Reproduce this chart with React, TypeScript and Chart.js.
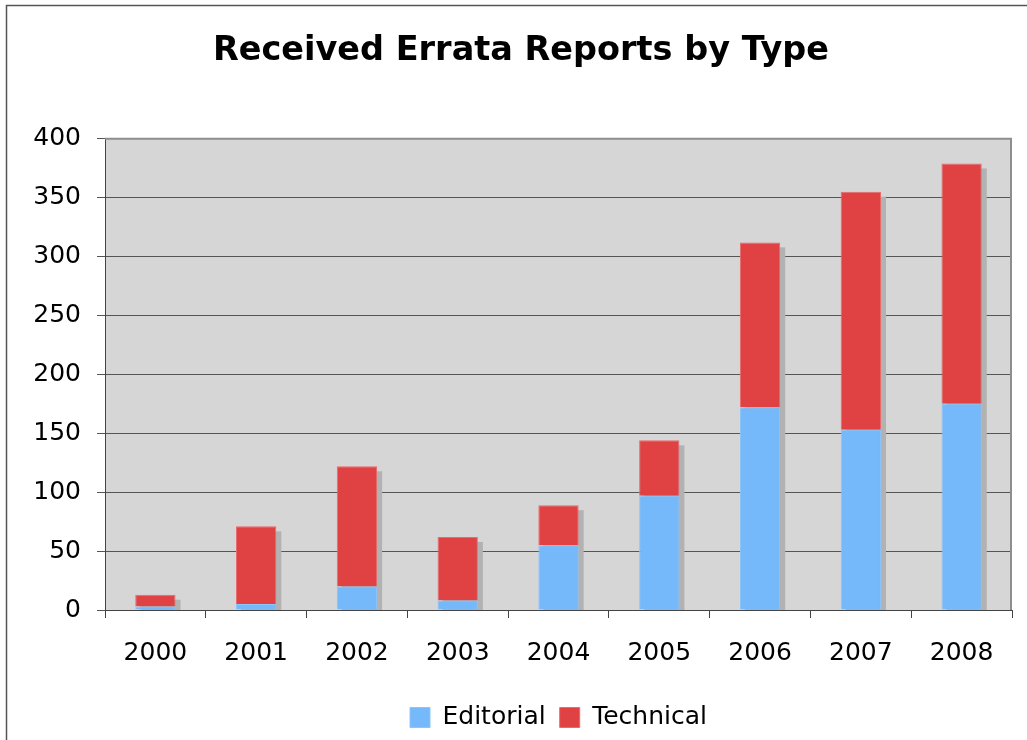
import React, { useEffect, useRef } from "react";
import { Chart, registerables } from "chart.js";

Chart.register(...registerables);

const years = ["2000", "2001", "2002", "2003", "2004", "2005", "2006", "2007", "2008"];
const editorial = [3, 5, 20, 8, 55, 97, 172, 153, 175];
const technical = [10, 66, 102, 54, 34, 47, 140, 202, 204];
const yMin = 0;
const yMax = 400;
const yStep = 50;

const FONT = "'DejaVu Sans', Verdana, sans-serif";

const decorPlugin = {
  id: "decor",
  beforeDraw(chart: any) {
    const { ctx, chartArea: a } = chart;
    ctx.save();
    ctx.fillStyle = "#ffffff";
    ctx.fillRect(0, 0, chart.width, chart.height);
    // outer frame
    ctx.strokeStyle = "#555555";
    ctx.lineWidth = 1.5;
    ctx.beginPath();
    ctx.moveTo(6.5, chart.height);
    ctx.lineTo(6.5, 5.5);
    ctx.lineTo(chart.width, 5.5);
    ctx.stroke();
    // plot background
    ctx.fillStyle = "#d6d6d6";
    ctx.fillRect(a.left, a.top, a.right - a.left, a.bottom - a.top);
    ctx.restore();
  },
  beforeDatasetsDraw(chart: any) {
    const { ctx } = chart;
    const top = chart.getDatasetMeta(1);
    const base = chart.scales.y.getPixelForValue(0);
    ctx.save();
    ctx.fillStyle = "#b2b2b2";
    top.data.forEach((el: any) => {
      const p = el.getProps(["x", "y", "width"], true);
      const left = p.x - p.width / 2 + 5;
      ctx.fillRect(left, p.y + 5, p.width, base - p.y - 5);
    });
    ctx.restore();
  },
  afterDatasetsDraw(chart: any) {
    const { ctx, chartArea: a } = chart;
    ctx.save();
    ctx.strokeStyle = "#8e8e8e";
    ctx.lineWidth = 2;
    ctx.beginPath();
    ctx.moveTo(a.left, a.top);
    ctx.lineTo(a.right - 1, a.top);
    ctx.lineTo(a.right - 1, a.bottom);
    ctx.stroke();
    ctx.restore();
  },
};

export default function App() {
  const ref = useRef<HTMLCanvasElement | null>(null);
  useEffect(() => {
    if (!ref.current) return;
    const chart = new Chart(ref.current, {
      type: "bar",
      data: {
        labels: years,
        datasets: [
          {
            label: "Editorial",
            data: editorial,
            backgroundColor: "#75b9fb",
            borderColor: "#8cc5fb",
            borderWidth: 1,
            barPercentage: 0.4,
            categoryPercentage: 1,
          },
          {
            label: "Technical",
            data: technical,
            backgroundColor: "#e04143",
            borderColor: "#e86a6c",
            borderWidth: 1,
            barPercentage: 0.4,
            categoryPercentage: 1,
          },
        ],
      },
      options: {
        responsive: false,
        animation: false,
        layout: { padding: { left: 30, right: 15, top: 0, bottom: 0 } },
        plugins: {
          title: {
            display: true,
            text: "Received Errata Reports by Type",
            color: "#000000",
            font: { family: FONT, size: 33.5, weight: "bold" },
            padding: { top: 31, bottom: 67.5 },
          },
          legend: {
            position: "bottom",
            fullSize: false,
            labels: {
              color: "#000000",
              font: { family: FONT, size: 25 },
              boxWidth: 20,
              boxHeight: 20,
              padding: 14,
            },
          },
          tooltip: { enabled: false },
        },
        scales: {
          x: {
            stacked: true,
            grid: {
              offset: true,
              drawOnChartArea: false,
              drawTicks: true,
              tickLength: 8,
              color: "#444444",
            },
            border: { color: "#444444", width: 1 },
            ticks: { color: "#000000", font: { family: FONT, size: 25 }, padding: 20 },
            afterFit: (s: any) => {
              s.height += 3;
            },
          },
          y: {
            stacked: true,
            min: yMin,
            max: yMax,
            grid: { color: "#555555", tickLength: 8, lineWidth: 1 },
            border: { color: "#444444", width: 1 },
            ticks: {
              stepSize: yStep,
              color: "#000000",
              font: { family: FONT, size: 25 },
              padding: 16,
            },
            afterFit: (s: any) => {
              s.width = 75;
            },
          },
        },
      },
      plugins: [decorPlugin],
    } as any);
    return () => chart.destroy();
  }, []);
  return (
    <div style={{ position: "absolute", left: 0, top: 0, width: 1027, height: 740 }}>
      <canvas ref={ref} width={1027} height={740} style={{ display: "block" }} />
    </div>
  );
}
